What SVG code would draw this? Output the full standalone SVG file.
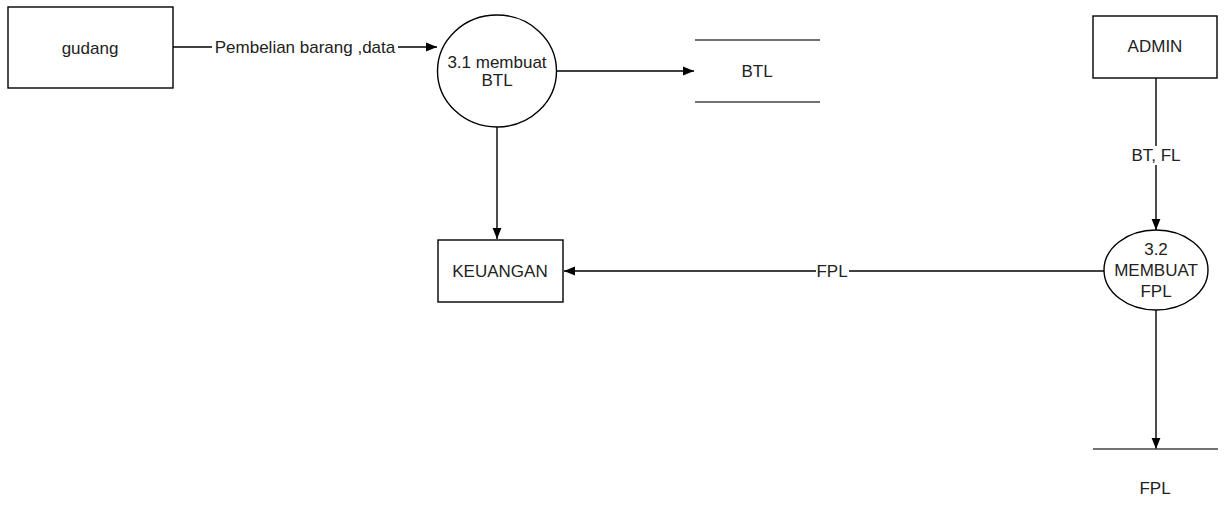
<svg xmlns="http://www.w3.org/2000/svg" width="1224" height="526" viewBox="0 0 1224 526">
<defs>
<marker id="arr" viewBox="0 0 10 10" refX="10" refY="5" markerWidth="11" markerHeight="11" markerUnits="userSpaceOnUse" orient="auto">
<path d="M0,1 L10,5 L0,9 Z" fill="#000"/>
</marker>
</defs>
<style>
.box{fill:#fff;stroke:#000;stroke-width:1.4}
.line{fill:none;stroke:#000;stroke-width:1.4}
.store{fill:none;stroke:#444;stroke-width:1.6}
.bg{fill:#fff;stroke:none}
text{font-family:"Liberation Sans",Arial,sans-serif;font-size:17px;fill:#222;text-anchor:middle;dominant-baseline:central}
</style>
<rect width="1224" height="526" fill="#fff"/>
<g id="connectors">
<path class="line" d="M173,47 H437" marker-end="url(#arr)"/>
<path class="line" d="M557,71 H694" marker-end="url(#arr)"/>
<path class="line" d="M497,127 V239" marker-end="url(#arr)"/>
<path class="line" d="M1104,271 H564" marker-end="url(#arr)"/>
<path class="line" d="M1156,78 V230" marker-end="url(#arr)"/>
<path class="line" d="M1156,310 V449" marker-end="url(#arr)"/>
<rect class="bg" x="212" y="38" width="186" height="18"/>
<text x="305" y="47">Pembelian barang ,data</text>
<rect class="bg" x="816" y="262" width="33" height="18"/>
<text x="832" y="271">FPL</text>
<rect class="bg" x="1126" y="146" width="60" height="19"/>
<text x="1156" y="155">BT, FL</text>
</g>
<g id="gudang">
<rect class="box" x="8" y="7" width="165" height="81"/>
<text x="90" y="48">gudang</text>
</g>
<g id="p31">
<ellipse class="box" cx="497" cy="71" rx="59.5" ry="56"/>
<text x="497" y="62">3.1 membuat</text>
<text x="497" y="80">BTL</text>
</g>
<g id="btl">
<line class="store" x1="695" y1="40" x2="820" y2="40"/>
<line class="store" x1="695" y1="102" x2="820" y2="102"/>
<text x="757" y="71">BTL</text>
</g>
<g id="admin">
<rect class="box" x="1093" y="16" width="124" height="62"/>
<text x="1155" y="46">ADMIN</text>
</g>
<g id="keuangan">
<rect class="box" x="438" y="240" width="125" height="62"/>
<text x="500" y="271">KEUANGAN</text>
</g>
<g id="p32">
<ellipse class="box" cx="1156" cy="270" rx="52" ry="40"/>
<text x="1156" y="249">3.2</text>
<text x="1156" y="270">MEMBUAT</text>
<text x="1156" y="291">FPL</text>
</g>
<g id="fpl">
<line class="store" x1="1093" y1="449" x2="1218" y2="449"/>
<text x="1155" y="488">FPL</text>
</g>
</svg>
